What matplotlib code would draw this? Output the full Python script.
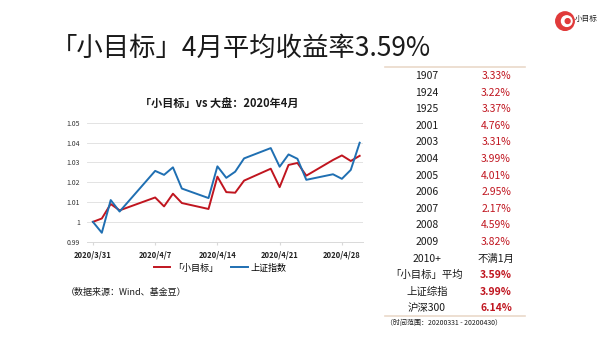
import matplotlib
matplotlib.use("Agg")
import matplotlib.pyplot as plt
import pandas as pd
from matplotlib.patches import Circle

plt.rcParams['font.family'] = ['Noto Sans CJK SC', 'DejaVu Sans']

# trading days, April 2020
dates = ["2020-03-31", "2020-04-01", "2020-04-02", "2020-04-03",
         "2020-04-07", "2020-04-08", "2020-04-09", "2020-04-10",
         "2020-04-13", "2020-04-14", "2020-04-15", "2020-04-16", "2020-04-17",
         "2020-04-20", "2020-04-21", "2020-04-22", "2020-04-23", "2020-04-24",
         "2020-04-27", "2020-04-28", "2020-04-29", "2020-04-30"]
xmb = [1.000, 1.0017, 1.0090, 1.0058,
       1.0123, 1.0078, 1.0142, 1.0095,
       1.0065, 1.0228, 1.0150, 1.0147, 1.0208,
       1.0268, 1.0175, 1.0287, 1.0297, 1.0233,
       1.0312, 1.0335, 1.0307, 1.0333]
szzs = [1.000, 0.9945, 1.0110, 1.0052,
        1.0257, 1.0237, 1.0275, 1.0168,
        1.0120, 1.0280, 1.0222, 1.0253, 1.0320,
        1.0372, 1.0278, 1.0340, 1.0318, 1.0212,
        1.0240, 1.0217, 1.0262, 1.0399]
tick_dates = ["2020-03-31", "2020-04-07", "2020-04-14", "2020-04-21", "2020-04-28"]
tick_labels = ["2020/3/31", "2020/4/7", "2020/4/14", "2020/4/21", "2020/4/28"]

# table on the right
row_names = ["1907", "1924", "1925", "2001", "2003", "2004", "2005", "2006",
             "2007", "2008", "2009", "2010+", "「小目标」平均", "上证综指", "沪深300"]
row_values = ["3.33%", "3.22%", "3.37%", "4.76%", "3.31%", "3.99%", "4.01%", "2.95%",
              "2.17%", "4.59%", "3.82%", "不满1月", "3.59%", "3.99%", "6.14%"]

RED = "#c0151f"
BLUE = "#1f6fb2"
W, H = 600, 338

fig = plt.figure(figsize=(6, 3.38), dpi=100)
fig.patch.set_facecolor("white")

def fx(px):
    return px / W

def fy(py):
    return 1 - py / H

# headline
fig.text(fx(51), fy(48), "「小目标」4月平均收益率3.59%", fontsize=19,
         fontweight="light", color="#1a1a1a", va="center", ha="left")

# logo
lax = fig.add_axes([fx(554), fy(31), fx(22), 22 / H])
lax.set_xlim(0, 1)
lax.set_ylim(0, 1)
lax.set_aspect("equal")
lax.axis("off")
lax.add_patch(Circle((0.5, 0.45), 0.42, color="#e03a3a"))
lax.add_patch(Circle((0.58, 0.45), 0.24, color="white"))
lax.add_patch(Circle((0.62, 0.45), 0.11, color="#e03a3a"))
fig.text(fx(575), fy(19), "小目标", fontsize=5.5, color="#222222", va="center", ha="left")

# line chart
x = pd.to_datetime(dates)
ax = fig.add_axes([fx(87), fy(241.7), fx(363 - 87), (241.7 - 122.7) / H])
ax.plot(x, xmb, color=RED, lw=1.4, label="「小目标」")
ax.plot(x, szzs, color=BLUE, lw=1.4, label="上证指数")
ax.set_ylim(0.99, 1.05)
ax.set_yticks([0.99, 1.0, 1.01, 1.02, 1.03, 1.04, 1.05])
ax.set_yticklabels(["0.99", "1", "1.01", "1.02", "1.03", "1.04", "1.05"])
ax.set_xlim(pd.Timestamp("2020-03-30 08:00"), pd.Timestamp("2020-04-30 09:00"))
ax.set_xticks(pd.to_datetime(tick_dates))
ax.set_xticklabels(tick_labels)
ax.grid(axis="y", color="#e3e3e3", lw=0.7)
ax.set_axisbelow(True)
for s in ["top", "right", "left"]:
    ax.spines[s].set_visible(False)
ax.spines["bottom"].set_color("#d9d9d9")
ax.spines["bottom"].set_linewidth(0.7)
ax.tick_params(axis="y", length=0, labelsize=5, colors="#333333", pad=5)
ax.tick_params(axis="x", length=2, color="#d9d9d9", labelsize=5.5, colors="#222222", pad=4)
for t in ax.get_xticklabels():
    t.set_fontweight("bold")

fig.text(fx(219), fy(103), "「小目标」vs 大盘：2020年4月", fontsize=8,
         fontweight="bold", color="#1a1a1a", ha="center", va="center")

ax.legend(loc="center", bbox_to_anchor=(fx(220), fy(268)), bbox_transform=fig.transFigure,
          ncol=2, frameon=False, fontsize=6.5, handlelength=1.8, handletextpad=0.3,
          columnspacing=1.5)

fig.text(fx(66), fy(292), "（数据来源：Wind、基金豆）", fontsize=6.5,
         color="#1a1a1a", ha="left", va="center")

# summary table
row_y0, row_step = 76, 16.6
fig.add_artist(plt.Line2D([fx(385), fx(525)], [fy(67.3), fy(67.3)], color="#ead9ca", lw=1.2))
fig.add_artist(plt.Line2D([fx(385), fx(525)], [fy(315.5), fy(315.5)], color="#ead9ca", lw=1.2))
for i, (name, val) in enumerate(zip(row_names, row_values)):
    yy = fy(row_y0 + i * row_step)
    bold = i >= 12
    fig.text(fx(427), yy, name, fontsize=7.5, color="#1a1a1a", ha="center", va="center")
    vcolor = "#1a1a1a" if val == "不满1月" else RED
    fig.text(fx(496), yy, val, fontsize=7.5, color=vcolor, ha="center", va="center",
             fontweight="bold" if bold else "normal")

fig.text(fx(386), fy(323.5), "（时间范围：20200331 - 20200430）", fontsize=5,
         color="#1a1a1a", ha="left", va="center")

fig.savefig("out.png", dpi=100)
